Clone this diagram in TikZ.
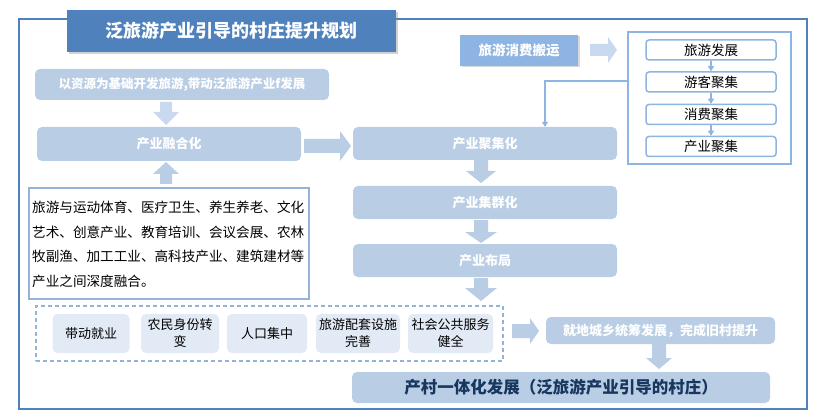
\documentclass[tikz,border=0pt]{standalone}
\usepackage{fontspec}
\setmainfont{Noto Sans CJK SC}
\usetikzlibrary{shadows,arrows.meta}
\definecolor{frameblue}{HTML}{4F81BD}
\definecolor{boxblue}{HTML}{B9CDE5}
\definecolor{midblue}{HTML}{8DB4E2}
\definecolor{lineblue}{HTML}{8EB4E3}
\definecolor{edgeblue}{HTML}{95B3D7}
\definecolor{paleblue}{HTML}{E2EAF5}
\definecolor{arrowlight}{HTML}{C9DAF0}
\definecolor{navy}{HTML}{17375E}
% vertical block arrow: cx, y-start, y-neck, y-tip, shaft half, head half, colour
\newcommand\vblock[7]{\fill[#7] ({#1-#5},{#2}) -- ({#1+#5},{#2}) -- ({#1+#5},{#3}) -- ({#1+#6},{#3}) -- ({#1},{#4}) -- ({#1-#6},{#3}) -- ({#1-#5},{#3}) -- cycle;}
% horizontal block arrow: cy, x-start, x-neck, x-tip, shaft half, head half, colour
\newcommand\hblock[7]{\fill[#7] ({#2},{#1-#5}) -- ({#2},{#1+#5}) -- ({#3},{#1+#5}) -- ({#3},{#1+#6}) -- ({#4},{#1}) -- ({#3},{#1-#6}) -- ({#3},{#1-#5}) -- cycle;}
\begin{document}
\begin{tikzpicture}[x=1pt,y=-1pt,
  solidbox/.style={rounded corners=5pt, fill=boxblue, text=white, inner sep=0pt,
    font=\bfseries\fontsize{13}{15}\selectfont},
  stagebox/.style={rounded corners=3pt, draw=lineblue, line width=1.5pt, fill=white,
    inner sep=0pt, minimum width=130pt, minimum height=20pt, font=\fontsize{13.5}{15}\selectfont},
  effectbox/.style={rounded corners=5pt, fill=paleblue, inner sep=0pt, minimum height=39pt,
    align=center, font=\fontsize{13}{17}\selectfont},
  thinarrow/.style={draw=lineblue, line width=1.5pt, -{Triangle[width=6pt,length=5pt]}}
]
\useasboundingbox (0,0) rectangle (816,414);
\fill[white] (0,0) rectangle (816,414);

% outer frame
\draw[frameblue, line width=2.2pt] (19,19) rectangle (807,409);

% title
\node[fill=frameblue, text=white, inner sep=0pt, minimum width=329pt, minimum height=42pt,
  font=\bfseries\fontsize{18}{22}\selectfont,
  drop shadow={shadow xshift=2pt, shadow yshift=-2pt, opacity=0.35, fill=gray}]
  (title) at (231.5,31) {泛旅游产业引导的村庄提升规划};

% left column
\node[solidbox, minimum width=294pt, minimum height=31pt, font=\bfseries\fontsize{12.5}{15}\selectfont]
  (src) at (182,84.5) {以资源为基础开发旅游,带动泛旅游产业f发展};
\node[solidbox, minimum width=264pt, minimum height=34pt] (fuse) at (169,144) {产业融合化};
\node[draw=edgeblue, line width=1.5pt, inner sep=0pt, minimum width=280pt, minimum height=111pt]
  (txtbox) at (169,243.5) {};
\node[anchor=north west, inner sep=0pt, align=left, font=\fontsize{13.6}{24.5}\selectfont]
  (txt) at (32,201) {旅游与运动体育、医疗卫生、养生养老、文化\\艺术、创意产业、教育培训、会议会展、农林\\牧副渔、加工工业、高科技产业、建筑建材等\\产业之间深度融合。};

\vblock{166}{102}{112}{125}{6}{13}{arrowlight}
\vblock{166}{184}{174}{162}{6}{13}{boxblue}
\hblock{146}{304}{340}{351}{7}{15}{boxblue}

% middle column
\node[solidbox, minimum width=264pt, minimum height=33pt] (c1) at (485,143.5) {产业聚集化};
\node[solidbox, minimum width=264pt, minimum height=33pt] (c2) at (485,202.5) {产业集群化};
\node[solidbox, minimum width=264pt, minimum height=33pt] (c3) at (485,260.5) {产业布局};
\vblock{481}{159}{171}{183}{7}{15}{boxblue}
\vblock{481}{220}{232}{243}{7}{16}{boxblue}
\vblock{481}{278}{288}{301}{7}{16}{boxblue}

% right top
\node[fill=midblue, text=white, inner sep=0pt, minimum width=118pt, minimum height=31pt,
  font=\bfseries\fontsize{13.5}{15}\selectfont,
  drop shadow={shadow xshift=1.5pt, shadow yshift=-1.5pt, opacity=0.3, fill=gray}]
  (move) at (519,50.5) {旅游消费搬运};
\hblock{50}{590}{608}{617}{6}{13}{arrowlight}
\node[draw=lineblue, line width=1.5pt, inner sep=0pt, minimum width=163pt, minimum height=132pt]
  (rframe) at (709.5,98) {};
\node[stagebox] (s1) at (711,50) {旅游发展};
\node[stagebox] (s2) at (711,82) {游客聚集};
\node[stagebox] (s3) at (711,114.5) {消费聚集};
\node[stagebox] (s4) at (711,146.5) {产业聚集};
\draw[thinarrow] (s1) -- (s2);
\draw[thinarrow] (s2) -- (s3);
\draw[thinarrow] (s3) -- (s4);
\coordinate (turn) at (545,81);
\draw[thinarrow] (rframe.west |- turn) -- (turn) -- (turn |- c1.north);

% bottom effects
\node[draw=edgeblue, dashed, line width=1.5pt, dash pattern=on 4pt off 3pt, inner sep=0pt,
  minimum width=467pt, minimum height=55pt] (effects) at (269.5,333.5) {};
\node[effectbox, minimum width=77pt] (e1) at (91,333.5) {带动就业};
\node[effectbox, minimum width=78pt] (e2) at (180,333.5) {农民身份转\\变};
\node[effectbox, minimum width=80pt] (e3) at (267,333.5) {人口集中};
\node[effectbox, minimum width=84pt] (e4) at (358,333.5) {旅游配套设施\\完善};
\node[effectbox, minimum width=85pt] (e5) at (450.5,333.5) {社会公共服务\\健全};
\hblock{331}{512}{530}{539}{7}{13}{boxblue}

\node[solidbox, minimum width=229pt, minimum height=27pt] (urban) at (660.5,330.5) {就地城乡统筹发展，完成旧村提升};
\vblock{659}{343}{358}{369}{7}{13}{boxblue}
\node[solidbox, text=navy, minimum width=418pt, minimum height=31pt, font=\bfseries\fontsize{16.5}{19}\selectfont]
  (final) at (561,387.5) {产村一体化发展（泛旅游产业引导的村庄）};
\end{tikzpicture}
\end{document}
